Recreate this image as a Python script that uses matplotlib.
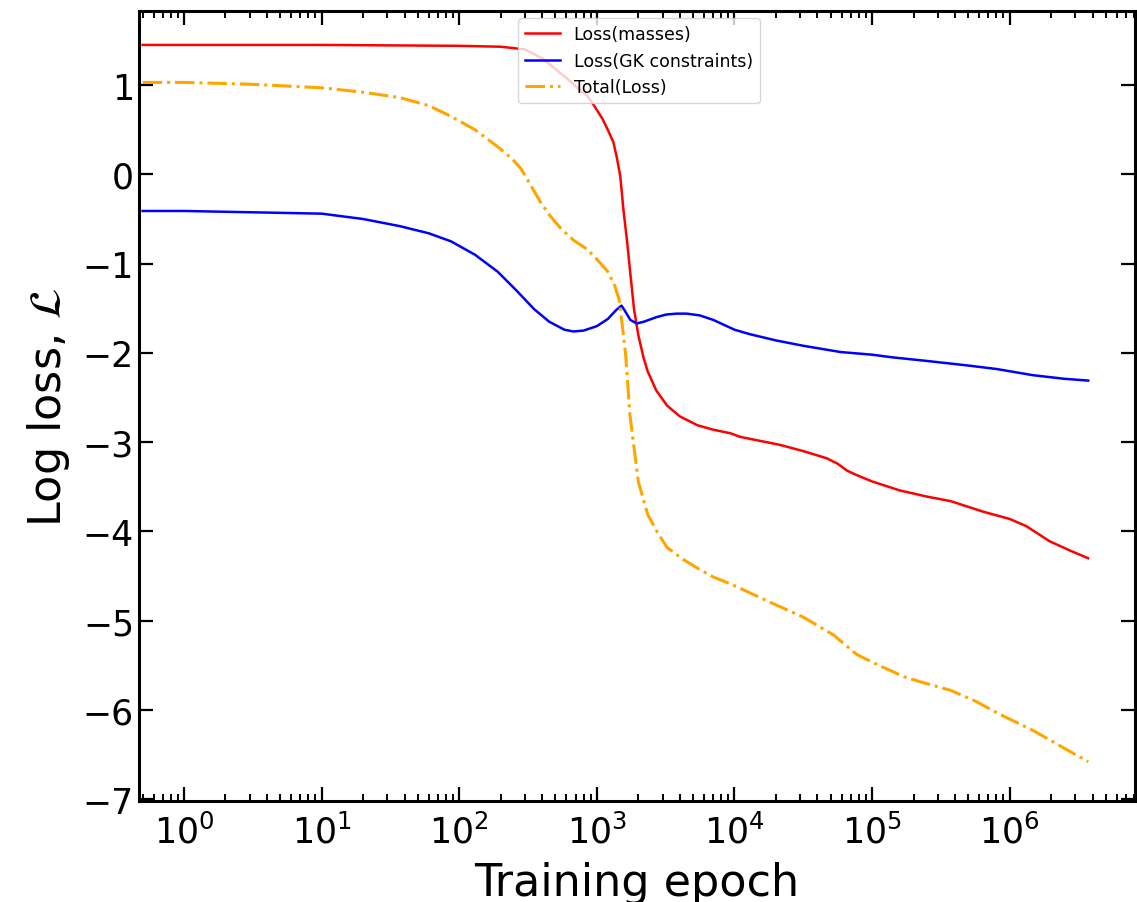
import matplotlib
matplotlib.use('Agg')
import matplotlib.pyplot as plt
from matplotlib.ticker import LogLocator, NullFormatter

# Loss(masses)
mass_epochs = [0.5, 1, 10, 100, 200, 300, 400, 500, 600, 708, 850, 955, 1100, 1200,
               1318, 1400, 1479, 1560, 1660, 1760, 1862, 2000, 2188, 2344, 2700, 3236,
               4000, 5370, 7000, 9333, 10965, 21380, 31600, 46770, 56000, 66000, 77625,
               100000, 158489, 251000, 371535, 645654, 1000000, 1318257, 1949845,
               2800000, 3715352]
mass_loss = [1.45, 1.45, 1.45, 1.44, 1.43, 1.40, 1.30, 1.18, 1.08, 0.98, 0.88, 0.77,
             0.62, 0.50, 0.36, 0.18, -0.02, -0.40, -0.76, -1.15, -1.51, -1.80, -2.06,
             -2.21, -2.42, -2.59, -2.71, -2.81, -2.86, -2.90, -2.94, -3.03, -3.10,
             -3.18, -3.24, -3.32, -3.37, -3.44, -3.54, -3.61, -3.66, -3.78, -3.86,
             -3.94, -4.11, -4.22, -4.30]

# Loss(GK constraints)
gk_epochs = [0.5, 1, 10, 20, 37, 60, 87, 130, 190, 260, 350, 450, 580, 676, 800, 1000,
             1200, 1380, 1510, 1600, 1750, 1950, 2200, 2700, 3200, 3800, 4500, 5600,
             7000, 10000, 12900, 20000, 31600, 58900, 100000, 141000, 250000, 490000,
             800000, 1480000, 2500000, 3720000]
gk_loss = [-0.41, -0.41, -0.44, -0.50, -0.58, -0.66, -0.75, -0.90, -1.09, -1.30, -1.51,
           -1.65, -1.74, -1.76, -1.75, -1.70, -1.62, -1.52, -1.47, -1.53, -1.63, -1.67,
           -1.65, -1.60, -1.57, -1.56, -1.56, -1.58, -1.63, -1.74, -1.79, -1.86, -1.92,
           -1.99, -2.02, -2.05, -2.09, -2.14, -2.18, -2.25, -2.29, -2.31]

# Total(Loss)
total_epochs = [0.5, 1, 3, 10, 20, 37, 60, 87, 130, 190, 240, 282, 330, 389, 460, 550,
                680, 851, 1000, 1200, 1350, 1450, 1550, 1620, 1740, 2000, 2340, 2800,
                3240, 4200, 5370, 7000, 9770, 17400, 31600, 52500, 77600, 112000,
                178000, 372000, 562000, 851000, 1480000, 2500000, 3720000]
total_loss = [1.03, 1.03, 1.01, 0.97, 0.92, 0.86, 0.77, 0.65, 0.50, 0.31, 0.18, 0.06,
              -0.12, -0.31, -0.47, -0.61, -0.74, -0.84, -0.95, -1.09, -1.25, -1.40,
              -1.77, -2.03, -2.70, -3.44, -3.81, -4.03, -4.18, -4.31, -4.41, -4.51,
              -4.60, -4.78, -4.96, -5.16, -5.38, -5.50, -5.64, -5.78, -5.90, -6.05,
              -6.23, -6.43, -6.58]

fig = plt.figure(figsize=(11.37, 9.03), dpi=100)
ax = fig.add_axes([0.1222, 0.1118, 0.8758, 0.8749])

ax.plot(mass_epochs, mass_loss, color='red', lw=1.8, label='Loss(masses)')
ax.plot(gk_epochs, gk_loss, color='blue', lw=1.8, label='Loss(GK constraints)')
ax.plot(total_epochs, total_loss, color='orange', lw=2.2, ls='-.', label='Total(Loss)')

ax.set_xscale('log')
ax.set_xlim(0.47, 8.1e6)
ax.set_ylim(-7.02, 1.83)
ax.set_yticks(range(-7, 2))

ax.xaxis.set_major_locator(LogLocator(base=10, numticks=20))
ax.xaxis.set_minor_locator(LogLocator(base=10, subs=range(2, 10), numticks=100))
ax.xaxis.set_minor_formatter(NullFormatter())

ax.tick_params(which='major', direction='in', length=10, width=1.6,
               top=True, right=True, labelsize=25)
ax.tick_params(axis='x', which='major', pad=9)
ax.tick_params(which='minor', direction='in', length=5, width=1.4, top=True, right=True)
for s in ax.spines.values():
    s.set_linewidth(2.2)

ax.set_xlabel('Training epoch', fontsize=32, labelpad=8)
ax.set_ylabel(r'Log loss, $\mathcal{L}$', fontsize=32, labelpad=8)

ax.legend(loc='upper left', bbox_to_anchor=(0.372, 1.002), fontsize=12.5, frameon=True)

fig.savefig('out.png', dpi=100)
